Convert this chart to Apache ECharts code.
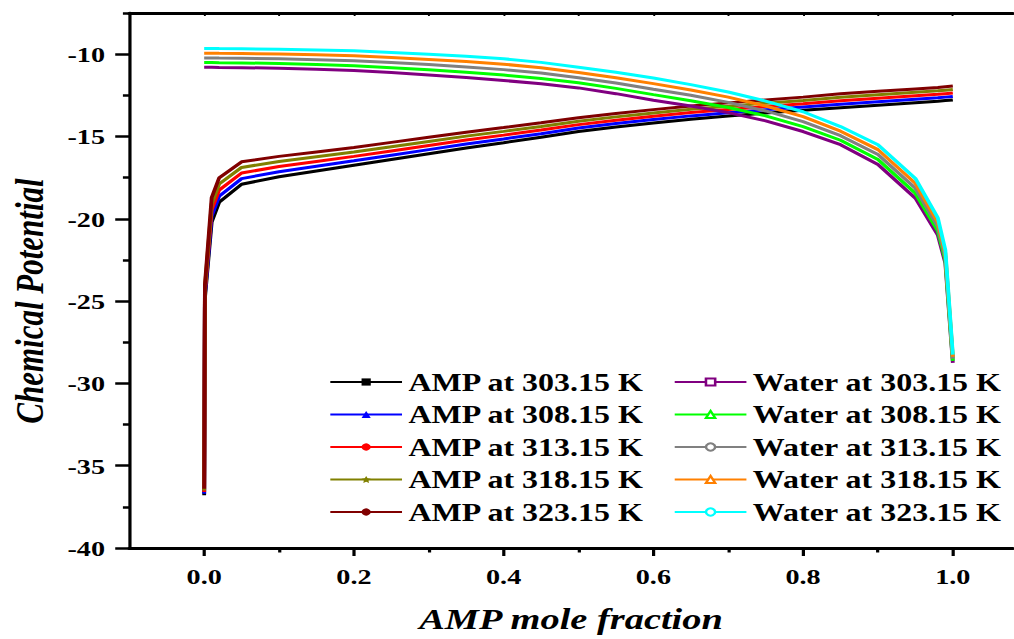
<!DOCTYPE html>
<html>
<head>
<meta charset="utf-8">
<script src="https://cdn.jsdelivr.net/npm/echarts@6/dist/echarts.min.js"></script>
<style>
html, body { margin: 0; padding: 0; background: #fff; overflow: hidden; }
#main { width: 792px; height: 639px; transform: scaleX(1.2803); transform-origin: 0 0; }
</style>
</head>
<body>
<div id="main"></div>
<script>
// AMP mole fraction
const xs = [0, 0.001, 0.01, 0.02, 0.05, 0.1, 0.15, 0.2, 0.25, 0.3, 0.35, 0.4, 0.45, 0.5, 0.55, 0.6, 0.65, 0.7, 0.75, 0.8, 0.85, 0.9, 0.95, 0.98, 0.99, 1.0];

const amp30315 = [-36.8, -24.8, -20.2, -19.0, -17.9, -17.45, -17.1, -16.75, -16.4, -16.05, -15.7, -15.38, -15.05, -14.7, -14.42, -14.18, -13.96, -13.76, -13.58, -13.41, -13.25, -13.1, -12.95, -12.86, -12.82, -12.78];
const amp30815 = [-36.7, -24.6, -19.83, -18.63, -17.56, -17.14, -16.81, -16.48, -16.14, -15.8, -15.46, -15.15, -14.83, -14.49, -14.21, -13.97, -13.75, -13.56, -13.38, -13.21, -13.04, -12.89, -12.74, -12.65, -12.61, -12.57];
const amp31315 = [-36.6, -24.4, -19.46, -18.26, -17.22, -16.83, -16.52, -16.21, -15.88, -15.55, -15.22, -14.92, -14.61, -14.28, -14.01, -13.77, -13.55, -13.36, -13.18, -13.01, -12.83, -12.68, -12.53, -12.44, -12.4, -12.36];
const amp31815 = [-36.5, -24.2, -19.09, -17.89, -16.88, -16.52, -16.23, -15.94, -15.62, -15.3, -14.98, -14.69, -14.39, -14.07, -13.81, -13.57, -13.35, -13.16, -12.98, -12.81, -12.62, -12.47, -12.32, -12.23, -12.19, -12.15];
const amp32315 = [-36.4, -24.0, -18.72, -17.52, -16.54, -16.21, -15.94, -15.67, -15.36, -15.05, -14.74, -14.46, -14.17, -13.86, -13.61, -13.37, -13.15, -12.96, -12.78, -12.61, -12.41, -12.26, -12.11, -12.02, -11.98, -11.94];

const water30315 = [-10.8, -10.8, -10.8, -10.81, -10.82, -10.86, -10.92, -11.0, -11.12, -11.26, -11.42, -11.6, -11.8, -12.05, -12.4, -12.8, -13.15, -13.55, -14.05, -14.7, -15.5, -16.7, -18.75, -21.0, -22.7, -28.75];
const water30815 = [-10.51, -10.51, -10.51, -10.52, -10.53, -10.57, -10.63, -10.7, -10.82, -10.95, -11.1, -11.27, -11.48, -11.74, -12.08, -12.46, -12.83, -13.24, -13.75, -14.4, -15.23, -16.4, -18.45, -20.74, -22.5, -28.63];
const water31315 = [-10.23, -10.23, -10.23, -10.24, -10.25, -10.28, -10.34, -10.4, -10.51, -10.63, -10.78, -10.94, -11.15, -11.43, -11.75, -12.13, -12.5, -12.93, -13.45, -14.1, -14.95, -16.1, -18.15, -20.48, -22.3, -28.5];
const water31815 = [-9.94, -9.94, -9.94, -9.95, -9.96, -9.99, -10.04, -10.1, -10.21, -10.32, -10.45, -10.61, -10.83, -11.11, -11.43, -11.79, -12.18, -12.61, -13.15, -13.8, -14.68, -15.8, -17.85, -20.21, -22.1, -28.38];
const water32315 = [-9.65, -9.65, -9.65, -9.66, -9.67, -9.7, -9.75, -9.8, -9.9, -10.0, -10.13, -10.28, -10.5, -10.8, -11.1, -11.45, -11.85, -12.3, -12.85, -13.5, -14.4, -15.5, -17.55, -19.95, -21.9, -28.25];

const ampNames = ['AMP at 303.15 K', 'AMP at 308.15 K', 'AMP at 313.15 K', 'AMP at 318.15 K', 'AMP at 323.15 K'];
const waterNames = ['Water at 303.15 K', 'Water at 308.15 K', 'Water at 313.15 K', 'Water at 318.15 K', 'Water at 323.15 K'];

const xMajorTicks = [0, 0.2, 0.4, 0.6, 0.8, 1.0];
const xMinorTicks = [0.1, 0.3, 0.5, 0.7, 0.9];
const xTopTicks = [0, 0.1, 0.2, 0.3, 0.4, 0.5, 0.6, 0.7, 0.8, 0.9, 1.0];
const yMajorTicks = [-40, -35, -30, -25, -20, -15, -10];
const yMinorTicks = [-37.5, -32.5, -27.5, -22.5, -17.5, -12.5, -7.5];

const FONT = 'Liberation Serif';
const starPath = 'path://M0,-10 L2.9,-4 L9.5,-3.1 L4.7,1.5 L5.9,8.1 L0,5 L-5.9,8.1 L-4.7,1.5 L-9.5,-3.1 L-2.9,-4 Z';

const ampData = [amp30315, amp30815, amp31315, amp31815, amp32315];
const waterData = [water30315, water30815, water31315, water31815, water32315];
const ampColors = ['#000000', '#0000ff', '#ff0000', '#808000', '#800000'];
const waterColors = ['#800080', '#00ff00', '#808080', '#ff8000', '#00ffff'];
const ampSymbols = ['rect', 'triangle', 'circle', starPath, 'circle'];
const waterSymbols = ['rect', 'triangle', 'circle', 'triangle', 'circle'];

function pairs(ys) { return xs.map((x, i) => [x, ys[i]]); }

const series = [];
ampData.forEach((ys, i) => {
  series.push({
    name: ampNames[i], type: 'line', data: pairs(ys),
    xAxisIndex: 0, yAxisIndex: 0,
    showSymbol: false, symbol: ampSymbols[i], symbolSize: 7,
    lineStyle: { color: ampColors[i], width: 3 },
    itemStyle: { color: ampColors[i] }
  });
});
waterData.forEach((ys, i) => {
  series.push({
    name: waterNames[i], type: 'line', data: pairs(ys),
    xAxisIndex: 0, yAxisIndex: 0,
    showSymbol: false, symbol: waterSymbols[i], symbolSize: 7,
    lineStyle: { color: waterColors[i], width: 3 },
    itemStyle: { color: '#ffffff', borderColor: waterColors[i], borderWidth: 1.5 }
  });
});

const legendText = { fontFamily: FONT, fontWeight: 'bold', fontSize: 25, lineHeight: 25, color: '#000' };

const chart = echarts.init(document.getElementById('main'), null, { renderer: 'svg' });
chart.setOption({
  animation: false,
  backgroundColor: '#fff',
  grid: { left: 101, right: 1, top: 13, bottom: 91, containLabel: false, outerBoundsMode: 'none' },
  legend: [
    { data: ampNames, orient: 'vertical', left: 257, top: 369.5, padding: 0,
      itemWidth: 56, itemHeight: 9, itemGap: 7.5, textStyle: legendText },
    { data: waterNames, orient: 'vertical', left: 526, top: 369.5, padding: 0,
      itemWidth: 56, itemHeight: 9, itemGap: 7.5, textStyle: legendText }
  ],
  xAxis: [
    { type: 'value', min: -0.1, max: 1.08, position: 'bottom',
      name: 'AMP mole fraction', nameLocation: 'middle', nameGap: 56,
      nameTextStyle: { fontFamily: FONT, fontWeight: 'bold', fontStyle: 'italic', fontSize: 30, color: '#000' },
      axisLine: { show: true, onZero: false, lineStyle: { color: '#000', width: 3 } },
      axisTick: { show: true, inside: false, length: 8, customValues: xMajorTicks, lineStyle: { color: '#000', width: 2.5 } },
      axisLabel: { customValues: xMajorTicks, formatter: v => v.toFixed(1), margin: 17,
        fontFamily: FONT, fontWeight: 'bold', fontSize: 22, color: '#000' },
      splitLine: { show: false } },
    { type: 'value', min: -0.1, max: 1.08, position: 'bottom',
      axisLine: { show: false, onZero: false },
      axisTick: { show: true, inside: false, length: 4.5, customValues: xMinorTicks, lineStyle: { color: '#000', width: 2.5 } },
      axisLabel: { show: false }, splitLine: { show: false } },
    { type: 'value', min: -0.1, max: 1.08, position: 'top',
      axisLine: { show: true, onZero: false, lineStyle: { color: '#000', width: 3 } },
      axisTick: { show: true, inside: true, length: 3, customValues: xTopTicks, lineStyle: { color: '#000', width: 1.5 } },
      axisLabel: { show: false }, splitLine: { show: false } }
  ],
  yAxis: [
    { type: 'value', min: -40, max: -7.5, position: 'left',
      axisLine: { show: true, onZero: false, lineStyle: { color: '#000', width: 2.5 } },
      axisTick: { show: true, inside: false, length: 11, customValues: yMajorTicks, lineStyle: { color: '#000', width: 2.5 } },
      axisLabel: { customValues: yMajorTicks, margin: 19, fontFamily: FONT, fontWeight: 'bold', fontSize: 22, color: '#000' },
      splitLine: { show: false } },
    { type: 'value', min: -40, max: -7.5, position: 'left',
      axisLine: { show: false, onZero: false },
      axisTick: { show: true, inside: false, length: 5, customValues: yMinorTicks, lineStyle: { color: '#000', width: 2.5 } },
      axisLabel: { show: false }, splitLine: { show: false } }
  ],
  graphic: [
    { type: 'text', x: 23, y: 301, rotation: Math.PI / 2,
      style: { text: 'Chemical Potential', x: 0, y: 0, align: 'center', verticalAlign: 'middle',
        fontFamily: FONT, fontWeight: 'bold', fontStyle: 'italic', fontSize: 31, fill: '#000' } }
  ],
  series: series
});
</script>
</body>
</html>
